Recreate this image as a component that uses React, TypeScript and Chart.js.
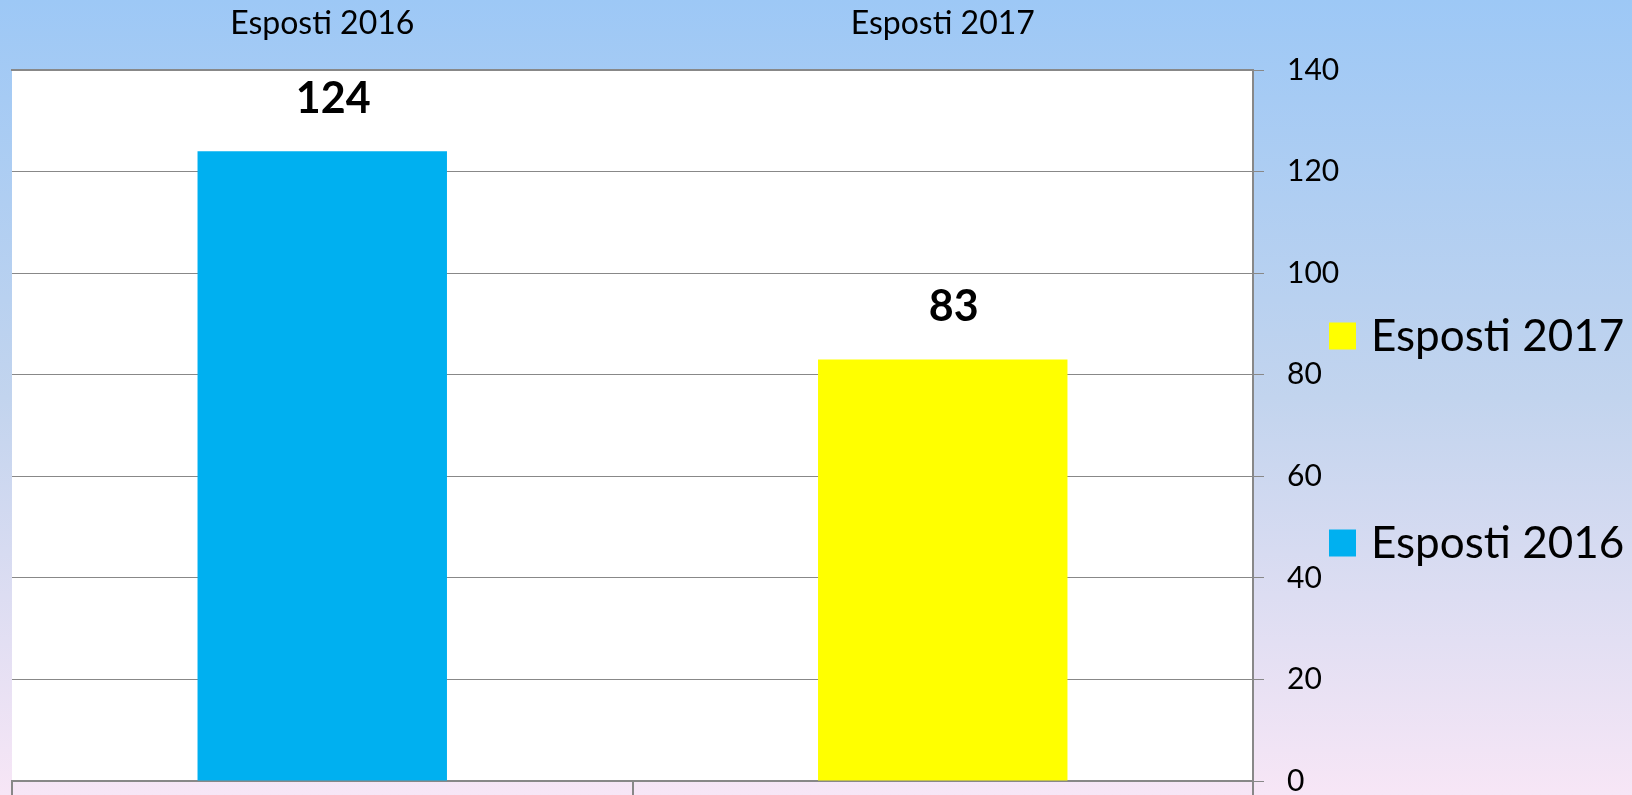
import React, { useEffect, useRef } from "react";
import { Chart, registerables } from "chart.js";

Chart.register(...registerables);

const categories = ["Esposti 2016", "Esposti 2017"];
const series2016 = [124, null];
const series2017 = [null, 83];
const yMin = 0;
const yMax = 140;
const yStep = 20;

const W = 1632;
const H = 795;
const FONT = "Lato, 'Noto Sans', sans-serif";

const dataLabelsPlugin = {
  id: "dataLabels",
  afterDatasetsDraw(chart: any) {
    const ctx = chart.ctx;
    ctx.save();
    ctx.font = `bold 43px ${FONT}`;
    ctx.fillStyle = "#000";
    ctx.textAlign = "center";
    ctx.textBaseline = "middle";
    chart.data.datasets.forEach((ds: any, di: number) => {
      const meta = chart.getDatasetMeta(di);
      meta.data.forEach((el: any, i: number) => {
        const v = ds.data[i];
        if (v === null || v === undefined) return;
        ctx.fillText(String(v), el.x + 11, el.y - 52);
      });
    });
    ctx.restore();
  },
};

const legendPlugin = {
  id: "sideLegend",
  afterDraw(chart: any) {
    const ctx = chart.ctx;
    ctx.save();
    ctx.font = `44px ${FONT}`;
    ctx.textBaseline = "alphabetic";
    ctx.textAlign = "left";
    const items = chart.data.datasets.slice().reverse();
    const boxX = 1329;
    const box = 27;
    const firstCenter = 336;
    const gap = 207;
    items.forEach((ds: any, i: number) => {
      const cy = firstCenter + i * gap;
      ctx.fillStyle = ds.backgroundColor;
      ctx.fillRect(boxX, cy - box / 2, box, box);
      ctx.fillStyle = "#000";
      ctx.fillText(ds.label, boxX + 42, cy + 15);
    });
    ctx.restore();
  },
};

const plotBgPlugin = {
  id: "plotBg",
  beforeDraw(chart: any) {
    const { ctx, chartArea } = chart;
    ctx.save();
    ctx.fillStyle = "#ffffff";
    ctx.fillRect(chartArea.left, chartArea.top, chartArea.right - chartArea.left, chartArea.bottom - chartArea.top);
    ctx.restore();
  },
};

export default function App() {
  const ref = useRef<HTMLCanvasElement | null>(null);

  useEffect(() => {
    if (!ref.current) return;
    const chart = new Chart(ref.current, {
      type: "bar",
      data: {
        labels: categories,
        datasets: [
          {
            label: "Esposti 2016",
            data: series2016,
            backgroundColor: "#00B0F0",
            xAxisID: "x",
            yAxisID: "y",
            grouped: false,
            categoryPercentage: 1,
            barPercentage: 0.402,
          } as any,
          {
            label: "Esposti 2017",
            data: series2017,
            backgroundColor: "#FFFF00",
            xAxisID: "x",
            yAxisID: "y",
            grouped: false,
            categoryPercentage: 1,
            barPercentage: 0.402,
          } as any,
        ],
      },
      options: {
        responsive: false,
        animation: false,
        layout: { padding: { left: 12, right: 0, top: 0, bottom: 0 } },
        plugins: {
          legend: { display: false },
          tooltip: { enabled: false },
        },
        scales: {
          x: {
            type: "category",
            position: "top",
            offset: true,
            grid: { display: true, offset: true, drawOnChartArea: false, drawTicks: false },
            border: { display: true, color: "#888888", width: 2 },
            ticks: { color: "#000", font: { family: FONT, size: 32 }, padding: 27, maxRotation: 0 },
            afterFit: (s: any) => {
              s.height = 70;
              s.paddingLeft = 0;
              s.paddingRight = 0;
            },
          },
          x2: {
            type: "category",
            position: "bottom",
            offset: true,
            grid: { display: true, offset: true, drawOnChartArea: false, drawTicks: true, tickLength: 14, color: "#888888", lineWidth: 2 },
            border: { display: true, color: "#888888", width: 2 },
            ticks: { display: false },
            afterFit: (s: any) => {
              s.height = 14;
              s.paddingLeft = 0;
              s.paddingRight = 0;
            },
          },
          y: {
            type: "linear",
            position: "right",
            min: yMin,
            max: yMax,
            ticks: { stepSize: yStep, color: "#000", font: { family: FONT, size: 30 }, padding: 23 },
            grid: { color: "#888888", lineWidth: 1, drawTicks: true, tickLength: 11 },
            border: { display: true, color: "#888888", width: 2 },
            afterFit: (s: any) => {
              s.width = W - 1253;
              s.paddingTop = 0;
              s.paddingBottom = 0;
            },
          },
        },
      },
      plugins: [plotBgPlugin, dataLabelsPlugin, legendPlugin],
    });
    return () => chart.destroy();
  }, []);

  return (
    <div
      style={{
        position: "fixed",
        left: 0,
        top: 0,
        width: W,
        height: H,
        background: "linear-gradient(to bottom, #9DC8F6 0%, #C2D4EE 50%, #F7E6F6 100%)",
      }}
    >
      <canvas ref={ref} width={W} height={H} style={{ display: "block" }} />
    </div>
  );
}
